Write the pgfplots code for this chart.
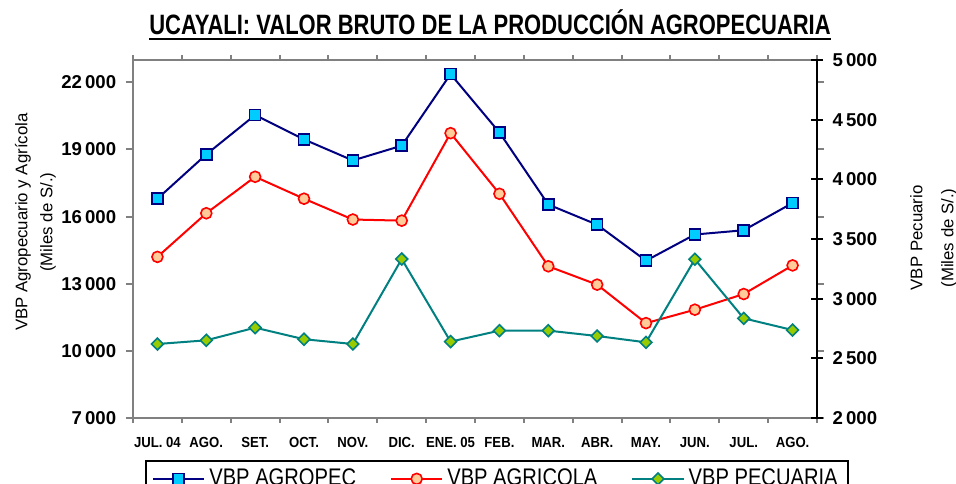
\documentclass[border=0pt]{standalone}
\usepackage{fontspec}
\usepackage{pgfplots}
\pgfplotsset{compat=1.18}
\newsavebox{\ulbox}
\newcommand{\thickul}[1]{\sbox{\ulbox}{#1}\usebox{\ulbox}\kern-\wd\ulbox\rule[-2.5pt]{\wd\ulbox}{1pt}}
\setmainfont{Liberation Sans}
\newfontfamily\narrowfont{Liberation Sans}[FakeStretch=0.785]
\newfontfamily\legfam{Liberation Sans}[FakeStretch=0.84]
\newfontfamily\xfam{Liberation Sans}[FakeStretch=0.90]
\newcommand{\titlefont}{\narrowfont\bfseries\fontsize{14}{16}\selectfont}
\newcommand{\tickfont}{\bfseries\fontsize{9.3}{11}\selectfont}
\newcommand{\xtickfont}{\xfam\bfseries\fontsize{7.3}{9}\selectfont}
\newcommand{\labfont}{\fontsize{8.4}{10}\selectfont}
\newcommand{\legendfont}{\legfam\fontsize{12}{14}\selectfont}
\definecolor{navyc}{HTML}{000080}
\definecolor{cyanc}{HTML}{00CCFF}
\definecolor{peach}{HTML}{FFCC99}
\definecolor{tealc}{HTML}{008080}
\definecolor{limec}{HTML}{99CC00}
\definecolor{frame}{HTML}{808080}
\pgfkeys{/pgf/number format/.cd, 1000 sep={\,}, assume math mode=true}
\pgfplotsset{
  agropec/.style={navyc, line width=1pt, mark=square*, mark size=2.75pt,
    mark options={fill=cyanc, draw=navyc, line width=0.8pt}},
  agricola/.style={red, line width=1pt, mark=*, mark size=2.75pt,
    mark options={fill=peach, draw=red, line width=0.8pt}},
  pecuaria/.style={tealc, line width=1pt, mark=square*, mark size=2.1pt,
    mark options={fill=limec, draw=tealc, line width=0.8pt, rotate=45}},
}
\begin{document}
\begin{tikzpicture}
\begin{axis}[name=ax, scale only axis, width=342pt, height=179pt,
  xmin=-0.5, xmax=13.5, ymin=7000, ymax=23000,
  ytick={7000,10000,...,22000}, scaled y ticks=false,
  xtick={0,...,13},
  xticklabels={JUL. 04, AGO., SET., OCT., NOV., DIC., ENE. 05, FEB., MAR., ABR., MAY., JUN., JUL., AGO.},
  minor xtick={-0.5,0.5,...,13.5},
  major x tick style={draw=none},
  tick align=outside, major tick length=3.5pt, minor tick length=2.5pt,
  axis line style={draw=frame, line width=1pt},
  tick style={draw=frame, line width=1pt},
  yticklabel style={font=\tickfont, xshift=-1.4pt},
  xticklabel style={font=\xtickfont, yshift=-2.5pt},
  ylabel={VBP Agropecuario y Agrícola\\[2.5pt](Miles de S/.)},
  ylabel style={font=\labfont, align=center, at={(axis description cs:-0.1425,0.547)}, anchor=center},
  title={\thickul{UCAYALI: VALOR BRUTO DE LA PRODUCCIÓN AGROPECUARIA}},
  title style={font=\titlefont, at={(axis description cs:0.522,1)}, anchor=base, yshift=6.5pt},
  legend columns=3,
  legend image code/.code={\draw[mark repeat=2,mark phase=2] plot coordinates {(0cm,0cm) (0.45cm,0cm) (0.9cm,0cm)};},
  legend style={at={(0.532,0)}, anchor=north, yshift=-21pt, draw=black, line width=1pt, font=\legendfont,
    /tikz/every even column/.append style={column sep=15pt}},
]
\addplot[agropec] coordinates {(0,16800) (1,18780) (2,20540) (3,19450) (4,18510) (5,19170) (6,22370) (7,19760) (8,16540) (9,15640) (10,14030) (11,15200) (12,15390) (13,16610)};
\addlegendentry{VBP AGROPEC}
\addplot[agricola] coordinates {(0,14200) (1,16150) (2,17780) (3,16800) (4,15870) (5,15820) (6,19730) (7,17020) (8,13780) (9,12960) (10,11240) (11,11840) (12,12540) (13,13820)};
\addlegendentry{VBP AGRICOLA}
\addlegendimage{pecuaria}
\addlegendentry{VBP PECUARIA}
\end{axis}
\begin{axis}[scale only axis, width=342pt, height=179pt,
  xmin=-0.5, xmax=13.5, ymin=2000, ymax=5000,
  axis y line*=right, axis x line=none,
  ytick={2000,2500,...,5000},
  tick align=center, major tick length=6pt,
  axis line style={draw=black, line width=1pt},
  ytick style={draw=black, line width=1pt},
  yticklabel style={font=\tickfont, xshift=1.3pt},
  ylabel={VBP Pecuario\\[5.5pt](Miles de S/.)},
  ylabel style={font=\labfont, align=center, at={(axis description cs:1.1703,0.503)}, anchor=center},
]
\addplot[pecuaria] coordinates {(0,2620) (1,2651) (2,2757) (3,2660) (4,2620) (5,3332) (6,2640) (7,2732) (8,2732) (9,2687) (10,2634) (11,3330) (12,2835) (13,2737)};
\end{axis}
\pgfresetboundingbox
\path[use as bounding box] ([xshift=-66.5pt,yshift=-33pt]ax.south west) rectangle ([xshift=69.5pt,yshift=30pt]ax.north east);
\end{tikzpicture}
\end{document}
